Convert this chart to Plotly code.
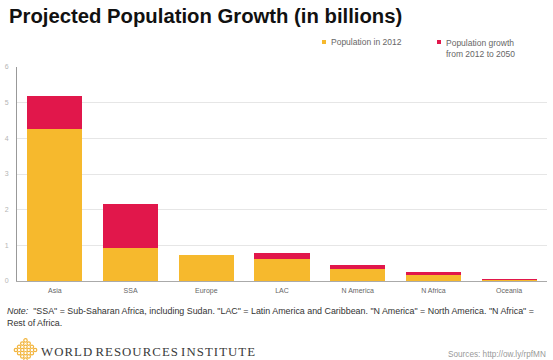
import plotly.graph_objects as go

# ---- data ----
regions = ["Asia", "SSA", "Europe", "LAC", "N America", "N Africa", "Oceania"]
pop_2012 = [4.26, 0.92, 0.74, 0.61, 0.35, 0.16, 0.037]
growth_2012_2050 = [0.92, 1.24, 0.0, 0.17, 0.09, 0.08, 0.017]
y_ticks = [0, 1, 2, 3, 4, 5, 6]

YELLOW = "#F6B92D"
RED = "#E1174B"

W, H = 553, 360
L, R, T, B = 17, 6, 67, 79
PW, PH = W - L - R, H - T - B


def px(x):
    return (x - L) / PW


def py(y):
    return (H - B - y) / PH


fig = go.Figure()
fig.add_trace(go.Bar(x=regions, y=pop_2012, name="Population in 2012",
                     marker=dict(color=YELLOW, line=dict(width=0)), showlegend=False))
fig.add_trace(go.Bar(x=regions, y=growth_2012_2050, name="Population growth<br>from 2012 to 2050",
                     marker=dict(color=RED, line=dict(width=0)), showlegend=False))

fig.update_layout(
    width=W, height=H,
    margin=dict(l=L, r=R, t=T, b=B, pad=0),
    barmode="stack", bargap=0.273,
    plot_bgcolor="white", paper_bgcolor="white",
    font=dict(family="Liberation Sans, Arial, sans-serif", color="#555"),
    xaxis=dict(showgrid=False, showline=True, linecolor="#aaaaaa", linewidth=1,
               ticks="", tickfont=dict(size=7, color="#666"), ticklabelstandoff=3,
               fixedrange=True),
    yaxis=dict(range=[0, 6], tickvals=y_ticks, showgrid=True, gridcolor="#e6e6e6",
               gridwidth=1, showline=True, linecolor="#999999", linewidth=1,
               zeroline=False, ticks="", tickfont=dict(size=7, color="#b5b5b5"),
               ticklabelstandoff=6, fixedrange=True),
)

ann = []
# title
ann.append(dict(text="<b>Projected Population Growth (in billions)</b>", x=px(7), y=py(16.5),
                xref="paper", yref="paper", xanchor="left", yanchor="middle", showarrow=False,
                font=dict(size=20.3, color="#111", family="Liberation Sans, Arial, sans-serif")))
# legend
ann.append(dict(text="Population in 2012", x=px(329), y=py(42), xref="paper", yref="paper",
                xanchor="left", yanchor="middle", showarrow=False, align="left",
                font=dict(size=8.5, color="#666")))
ann.append(dict(text="Population growth<br>from 2012 to 2050", x=px(444), y=py(48), xref="paper",
                yref="paper", xanchor="left", yanchor="middle", showarrow=False, align="left",
                font=dict(size=8.5, color="#666")))
# note
ann.append(dict(text="<i>Note:</i>  \"SSA\" = Sub-Saharan Africa, including Sudan. \"LAC\" = Latin America and "
                     "Caribbean. \"N America\" = North America. \"N Africa\" =<br>Rest of Africa.",
                x=px(5), y=py(316.5), xref="paper", yref="paper", xanchor="left", yanchor="middle",
                showarrow=False, align="left", font=dict(size=8.9, color="#333")))
# footer
hs = "\u200a"
wri = " ".join(hs.join(list(w)) for w in ["WORLD", "RESOURCES", "INSTITUTE"])
ann.append(dict(text=wri, x=px(39), y=py(352), xref="paper", yref="paper", xanchor="left",
                yanchor="middle", showarrow=False,
                font=dict(size=12.8, color="#3a3a3a", family="Liberation Serif, Times New Roman, serif")))
ann.append(dict(text="Sources: http://ow.ly/rpfMN", x=px(548), y=py(354), xref="paper", yref="paper",
                xanchor="right", yanchor="middle", showarrow=False,
                font=dict(size=8.2, color="#999")))
fig.update_layout(annotations=ann)

shapes = []
# legend squares
for x0, col in [(322, YELLOW), (437, RED)]:
    shapes.append(dict(type="rect", xref="paper", yref="paper", x0=px(x0), x1=px(x0 + 4),
                       y0=py(44), y1=py(40), fillcolor=col, line=dict(width=0)))
# logo: diamond lattice of small rings
cx, cy, s = 25.5, 350, 3.2
for i in range(4):
    for j in range(4):
        u, v = i - 1.5, j - 1.5
        x = cx + (u - v) * s
        y = cy + (u + v) * s
        shapes.append(dict(type="circle", xref="paper", yref="paper",
                           x0=px(x - 1.7), x1=px(x + 1.7), y0=py(y + 1.7), y1=py(y - 1.7),
                           line=dict(color="#F2B43C", width=1.2), fillcolor="rgba(0,0,0,0)"))
fig.update_layout(shapes=shapes)

fig.write_html("out.html", config={"displayModeBar": False},
               post_script="document.body.style.margin='0px';document.body.style.overflow='hidden';")
